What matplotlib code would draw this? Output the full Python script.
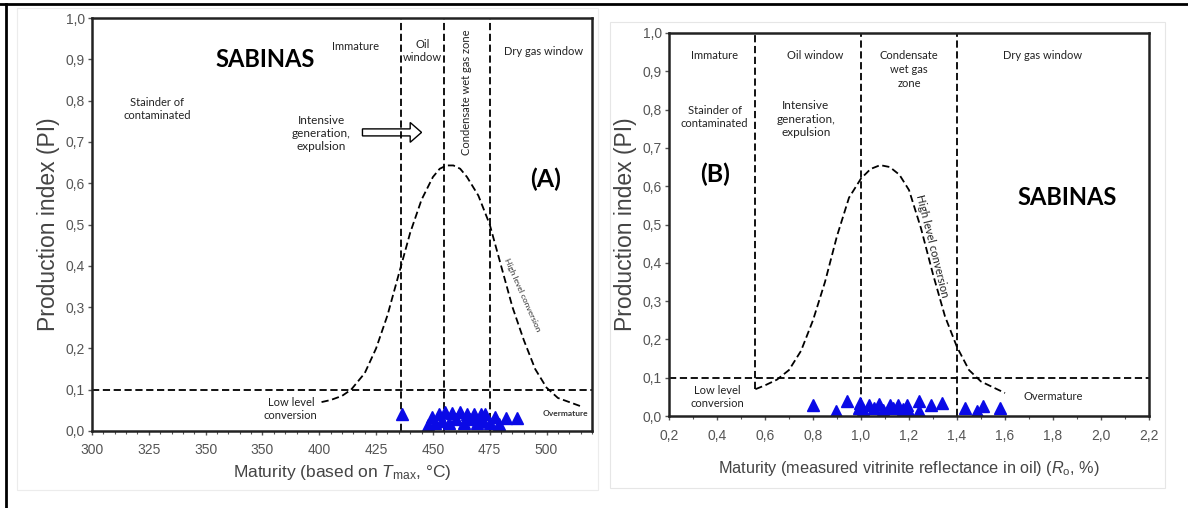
import matplotlib.pyplot as plt
from matplotlib.patches import FancyArrow, Rectangle
from matplotlib.lines import Line2D
from matplotlib.ticker import FixedLocator, FixedFormatter, MultipleLocator

plt.rcParams['font.family'] = ['Liberation Sans Narrow', 'Liberation Sans', 'DejaVu Sans']
plt.rcParams['mathtext.fontset'] = 'custom'
plt.rcParams['mathtext.rm'] = 'Liberation Sans'
plt.rcParams['mathtext.it'] = 'Liberation Sans:italic'

NOTE = ['Lato', 'DejaVu Sans']

# ---- panel A: Tmax ----
tmax_ticks = [300, 325, 350, 375, 400, 425, 450, 475, 500]
tmax_ticklabels = ['300', '325', '350', '350', '400', '425', '450', '475', '500']
tmax_zones = [436, 455, 475]
tmax_curve_x = [401, 405, 410, 414, 420, 425, 430, 436, 440, 445, 450, 453, 456, 459, 462,
                465, 470, 475, 480, 485, 490, 495, 500, 505, 510, 515]
tmax_curve_y = [0.07, 0.075, 0.085, 0.10, 0.14, 0.20, 0.28, 0.40, 0.48, 0.56, 0.615, 0.635, 0.643, 0.643, 0.635,
                0.615, 0.57, 0.50, 0.40, 0.30, 0.22, 0.15, 0.105, 0.08, 0.07, 0.06]
tmax_samples_x = [436.6, 448, 449.6, 451, 452.5, 454, 455.4, 457, 458.4, 460, 462, 463.5,
                  465, 466.5, 468, 469.5, 471, 472, 473, 475, 477.5, 479, 482, 487]
tmax_samples_y = [0.042, 0.015, 0.035, 0.02, 0.042, 0.025, 0.045, 0.02, 0.043, 0.028, 0.045, 0.02,
                  0.04, 0.03, 0.042, 0.02, 0.042, 0.025, 0.04, 0.02, 0.035, 0.018, 0.032, 0.032]

# ---- panel B: Ro ----
ro_ticks = [0.2, 0.4, 0.6, 0.8, 1.0, 1.2, 1.4, 1.6, 1.8, 2.0, 2.2]
ro_ticklabels = ['0,2', '0,4', '0,6', '0,8', '1,0', '1,2', '1,4', '1,6', '1,8', '2,0', '2,2']
ro_zones = [0.56, 1.0, 1.4]
ro_curve_x = [0.56, 0.60, 0.65, 0.70, 0.75, 0.80, 0.85, 0.90, 0.95, 1.00, 1.04, 1.08, 1.12,
              1.16, 1.20, 1.25, 1.30, 1.35, 1.40, 1.45, 1.50, 1.55, 1.60]
ro_curve_y = [0.07, 0.08, 0.095, 0.12, 0.17, 0.25, 0.35, 0.47, 0.57, 0.62, 0.645, 0.655, 0.65,
              0.63, 0.59, 0.49, 0.37, 0.26, 0.18, 0.12, 0.09, 0.075, 0.06]
ro_samples_x = [0.80, 0.895, 0.94, 0.99, 0.995, 1.01, 1.035, 1.056, 1.077, 1.09, 1.12, 1.133,
                1.154, 1.175, 1.19, 1.20, 1.24, 1.24, 1.29, 1.337, 1.435, 1.485, 1.51, 1.58]
ro_samples_y = [0.03, 0.012, 0.038, 0.022, 0.035, 0.015, 0.03, 0.022, 0.032, 0.015, 0.03, 0.02,
                0.03, 0.018, 0.028, 0.01, 0.04, 0.012, 0.03, 0.033, 0.022, 0.012, 0.025, 0.022]

pi_ticks = [0.0, 0.1, 0.2, 0.3, 0.4, 0.5, 0.6, 0.7, 0.8, 0.9, 1.0]
pi_ticklabels = ['0,0', '0,1', '0,2', '0,3', '0,4', '0,5', '0,6', '0,7', '0,8', '0,9', '1,0']

DASH = (0, (4, 2))
fig = plt.figure(figsize=(11.88, 5.08), dpi=100)

# faint picture boxes and outer frame
fig.add_artist(Rectangle((17 / 1188, 1 - 490 / 508), 581 / 1188, 482 / 508, transform=fig.transFigure,
                         fill=False, ec='#ececec', lw=0.8))
fig.add_artist(Rectangle((610 / 1188, 1 - 488 / 508), 555 / 1188, 466 / 508, transform=fig.transFigure,
                         fill=False, ec='#e6e6e6', lw=0.8))
fig.add_artist(Line2D([0, 1], [0.992, 0.992], transform=fig.transFigure, color='black', lw=2))
fig.add_artist(Line2D([0.005, 0.005], [0, 0.992], transform=fig.transFigure, color='black', lw=2))


def style_axes(ax, xticks, xlabels, xlim, minor):
    ax.set_xlim(*xlim)
    ax.set_ylim(0, 1)
    ax.xaxis.set_major_locator(FixedLocator(xticks))
    ax.xaxis.set_major_formatter(FixedFormatter(xlabels))
    ax.xaxis.set_minor_locator(MultipleLocator(minor))
    ax.yaxis.set_major_locator(FixedLocator(pi_ticks))
    ax.yaxis.set_major_formatter(FixedFormatter(pi_ticklabels))
    ax.tick_params(axis='both', which='major', labelsize=10, colors='#555555', length=3, width=1)
    ax.tick_params(axis='x', which='minor', length=2, width=0.8, color='#555555')
    ax.tick_params(axis='y', pad=2)
    ax.tick_params(axis='x', pad=6)
    for s in ax.spines.values():
        s.set_linewidth(1.8)
        s.set_color('#222222')
    ax.set_ylabel('Production index (PI)', fontsize=16.5, color='#444444', labelpad=4)
    ax.axhline(0.1, color='black', lw=1.3, ls=DASH)


# ---------- panel A ----------
axA = fig.add_axes([92 / 1188, 1 - 431 / 508, 500 / 1188, 413 / 508])
style_axes(axA, tmax_ticks, tmax_ticklabels, (300, 520), 5)
axA.set_xlabel(r'Maturity (based on $T_{\rm max}$, °C)', fontsize=12.5, color='#444444', labelpad=4)
for z in tmax_zones:
    axA.axvline(z, color='black', lw=1.3, ls=DASH)
axA.plot(tmax_curve_x, tmax_curve_y, color='black', lw=1.3, ls=DASH)
axA.plot(tmax_samples_x, tmax_samples_y, ls='none', marker='^', ms=9, color='#0a0ae6', mec='#0a0ae6')

axA.text(376, 0.90, 'SABINAS', family=NOTE, fontsize=17, fontweight='bold', ha='center', va='center')
axA.text(416, 0.93, 'Immature', family=NOTE, fontsize=8, ha='center', va='center', color='#222222')
axA.text(445.5, 0.92, 'Oil\nwindow', family=NOTE, fontsize=8, ha='center', va='center', color='#222222',
         linespacing=1.2)
axA.text(465, 0.82, 'Condensate wet gas zone', family=NOTE, fontsize=8, rotation=90,
         ha='center', va='center', color='#222222')
axA.text(498.5, 0.92, 'Dry gas window', family=NOTE, fontsize=8, ha='center', va='center', color='#222222')
axA.text(328.5, 0.78, 'Stainder of\ncontaminated', family=NOTE, fontsize=8, ha='center', va='center',
         color='#222222', linespacing=1.2)
axA.text(401, 0.72, 'Intensive\ngeneration,\nexpulsion', family=NOTE, fontsize=8.5, ha='center', va='center',
         color='#222222', linespacing=1.25)
axA.add_patch(FancyArrow(419, 0.723, 21, 0, width=0.017, head_width=0.048, head_length=5,
                         length_includes_head=False, fc='white', ec='black', lw=1))
axA.text(499.5, 0.61, '(A)', family=NOTE, fontsize=18, fontweight='bold', ha='center', va='center')
axA.text(489.5, 0.33, 'High level conversion', family=NOTE, fontsize=6, rotation=-66,
         ha='center', va='center', color='#333333')
axA.text(387.5, 0.053, 'Low level\nconversion', family=NOTE, fontsize=8, ha='center', va='center',
         color='#222222', linespacing=1.3)
axA.text(508.5, 0.043, 'Overmature', family=NOTE, fontsize=6, fontweight='bold', ha='center',
         va='center', color='#333333')

# ---------- panel B ----------
axB = fig.add_axes([669 / 1188, 1 - 416 / 508, 480 / 1188, 383 / 508])
style_axes(axB, ro_ticks, ro_ticklabels, (0.2, 2.2), 0.1)
axB.set_xlabel(r'Maturity (measured vitrinite reflectance in oil) ($R_{\rm o}$, %)', fontsize=11.7,
               color='#444444', labelpad=12)
axB.plot([ro_zones[0], ro_zones[0]], [ro_curve_y[0], 1], color='black', lw=1.3, ls=DASH)
for z in ro_zones[1:]:
    axB.axvline(z, color='black', lw=1.3, ls=DASH)
axB.plot(ro_curve_x, ro_curve_y, color='black', lw=1.3, ls=DASH)
axB.plot(ro_samples_x, ro_samples_y, ls='none', marker='^', ms=9, color='#0a0ae6', mec='#0a0ae6')

axB.text(0.39, 0.94, 'Immature', family=NOTE, fontsize=8, ha='center', va='center', color='#222222')
axB.text(0.81, 0.94, 'Oil window', family=NOTE, fontsize=8, ha='center', va='center', color='#222222')
axB.text(1.2, 0.905, 'Condensate\nwet gas\nzone', family=NOTE, fontsize=8, ha='center', va='center',
         color='#222222', linespacing=1.3)
axB.text(1.755, 0.94, 'Dry gas window', family=NOTE, fontsize=8, ha='center', va='center', color='#222222')
axB.text(0.39, 0.78, 'Stainder of\ncontaminated', family=NOTE, fontsize=8, ha='center', va='center',
         color='#222222', linespacing=1.2)
axB.text(0.77, 0.775, 'Intensive\ngeneration,\nexpulsion', family=NOTE, fontsize=8.5, ha='center',
         va='center', color='#222222', linespacing=1.25)
axB.text(0.39, 0.63, '(B)', family=NOTE, fontsize=18, fontweight='bold', ha='center', va='center')
axB.text(1.86, 0.57, 'SABINAS', family=NOTE, fontsize=17, fontweight='bold', ha='center', va='center')
axB.text(1.295, 0.445, 'High level conversion', family=NOTE, fontsize=8, rotation=-76,
         ha='center', va='center', color='#222222')
axB.text(0.40, 0.05, 'Low level\nconversion', family=NOTE, fontsize=8, ha='center', va='center',
         color='#222222', linespacing=1.3)
axB.text(1.80, 0.05, 'Overmature', family=NOTE, fontsize=8, ha='center', va='center', color='#222222')

fig.savefig('out.png', dpi=100)
